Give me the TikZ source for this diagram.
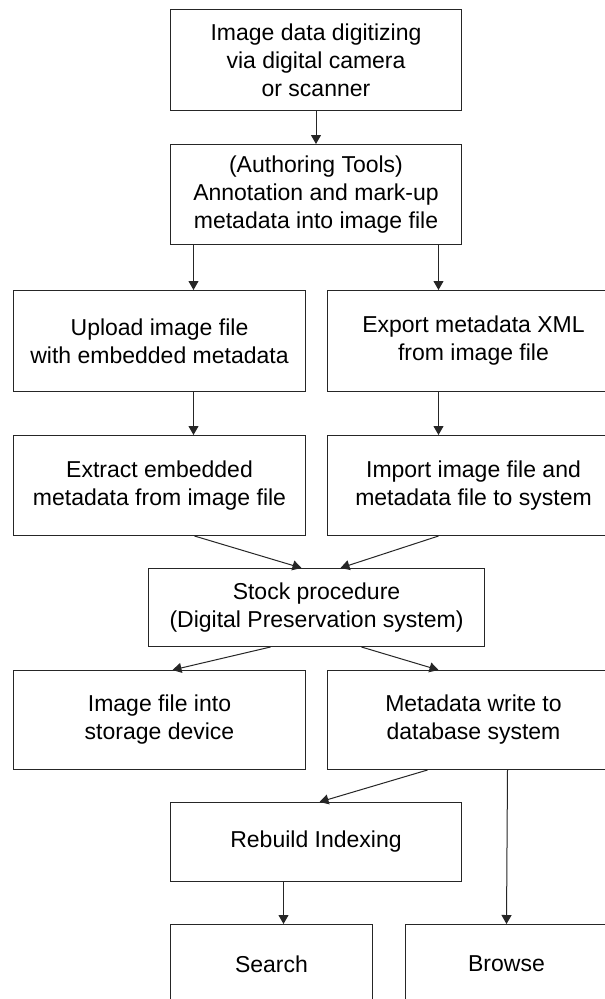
\documentclass[tikz,border=0pt]{standalone}
\usepackage{fontspec}
\setmainfont{Liberation Sans}
\usetikzlibrary{arrows.meta}
\begin{document}
\begin{tikzpicture}[x=1pt,y=-1pt,
	box/.style={draw=black!85, line width=1pt, inner sep=0pt, anchor=north west, align=center,
		font=\fontsize{23}{28}\selectfont},
	arr/.style={draw=black!85, line width=1pt, -{Triangle[length=9pt,width=10pt]}}]
	\useasboundingbox (0,0) rectangle (605,999);
	\fill[white] (0,0) rectangle (605,999);
	\clip (0,0) rectangle (605,999);
	% boxes
	\node[box, minimum width=291pt, minimum height=101pt] (digit) at (170,9) {Image data digitizing\\via digital camera\\or scanner};
	\node[box, minimum width=291pt, minimum height=100pt] (author) at (170,144) {(Authoring Tools)\\Annotation and mark-up\\metadata into image file};
	\node[box, minimum width=292pt, minimum height=101pt] (upload) at (13,290) {Upload image file\\with embedded metadata};
	\node[box, minimum width=292pt, minimum height=101pt] (export) at (327,290) {Export metadata XML\\from image file};
	\node[box, minimum width=292pt, minimum height=100pt] (extract) at (13,435) {Extract embedded\\metadata from image file};
	\node[box, minimum width=292pt, minimum height=100pt] (import) at (327,435) {Import image file and\\metadata file to system};
	\node[box, minimum width=336pt, minimum height=78pt] (stock) at (148,568) {Stock procedure\\(Digital Preservation system)};
	\node[box, minimum width=292pt, minimum height=99pt] (storage) at (13,670) {Image file into\\storage device};
	\node[box, minimum width=292pt, minimum height=99pt] (dbwrite) at (327,670) {Metadata write to\\database system};
	\node[box, minimum width=291pt, minimum height=79pt] (rebuild) at (170,802) {Rebuild Indexing};
	\node[box, minimum width=202pt, minimum height=79pt] (search) at (170,924) {Search};
	\node[box, minimum width=202pt, minimum height=79pt] (browse) at (405,924) {Browse};
	% arrows
	\draw[arr] (digit.south) -- (author.north);
	\draw[arr] ([xshift=-122.5pt]author.south) -- ([xshift=34pt]upload.north);
	\draw[arr] ([xshift=122.5pt]author.south) -- ([xshift=-35pt]export.north);
	\draw[arr] ([xshift=34pt]upload.south) -- ([xshift=34pt]extract.north);
	\draw[arr] ([xshift=-35pt]export.south) -- ([xshift=-35pt]import.north);
	\draw[arr] ([xshift=35pt]extract.south) -- ([xshift=-15pt]stock.north);
	\draw[arr] ([xshift=-35pt]import.south) -- ([xshift=24pt]stock.north);
	\draw[arr] ([xshift=-46pt]stock.south) -- ([xshift=13pt]storage.north);
	\draw[arr] ([xshift=45pt]stock.south) -- ([xshift=-35pt]dbwrite.north);
	\draw[arr] ([xshift=-46pt]dbwrite.south) -- ([xshift=3.5pt]rebuild.north);
	\draw[arr] ([xshift=34pt]dbwrite.south) -- (browse.north);
	\draw[arr] ([xshift=-32.5pt]rebuild.south) -- ([xshift=12pt]search.north);
\end{tikzpicture}
\end{document}
